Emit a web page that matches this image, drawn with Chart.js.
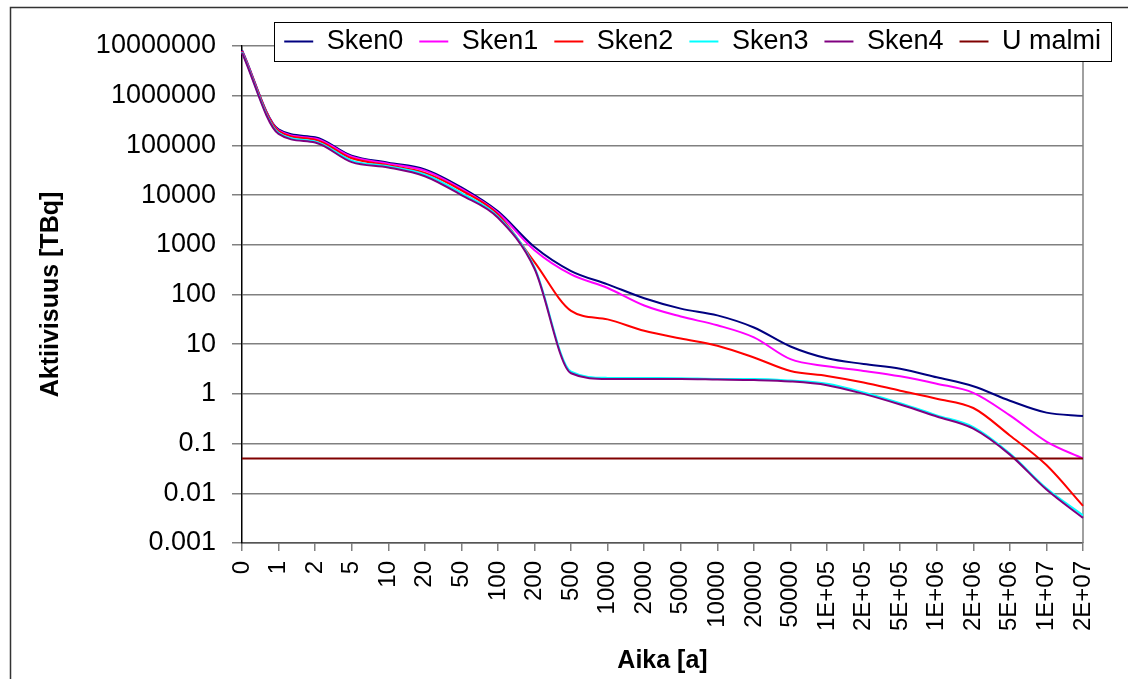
<!DOCTYPE html>
<html>
<head>
<meta charset="utf-8">
<title>Aktiivisuus</title>
<script src="https://cdn.jsdelivr.net/npm/chart.js@4/dist/chart.umd.min.js"></script>
<style>
    html, body { margin: 0; padding: 0; background: #fff; }
    #chart-wrap { width: 1128px; height: 679px; }
</style>
</head>
<body>
<div id="chart-wrap"><canvas id="activity-chart" width="1128" height="679"></canvas></div>
<script>
'use strict';

// Chart data:
var labels = ['0', '1', '2', '5', '10', '20', '50', '100', '200', '500', '1000', '2000',
    '5000', '10000', '20000', '50000', '1E+05', '2E+05', '5E+05', '1E+06', '2E+06',
    '5E+06', '1E+07', '2E+07'];

var sken0 = [8.2e6, 2.1e5, 1.46e5, 6.2e4, 4.5e4, 3.3e4, 1.43e4, 4.7e3, 900, 296, 160, 84,
    52, 38, 21.7, 9, 5.2, 4.0, 3.2, 2.16, 1.43, 0.73, 0.42, 0.36];
var sken1 = [8.0e6, 2.0e5, 1.38e5, 5.9e4, 4.3e4, 3.1e4, 1.33e4, 4.4e3, 780, 254, 135, 60,
    36, 24, 13.7, 5.0, 3.6, 2.9, 2.26, 1.6, 1.05, 0.37, 0.11, 0.05];
var sken2 = [7.8e6, 1.95e5, 1.3e5, 5.5e4, 4.0e4, 2.8e4, 1.25e4, 4.1e3, 450, 47, 31.6, 18.6,
    13, 9.3, 5.4, 2.9, 2.3, 1.7, 1.16, 0.8, 0.52, 0.146, 0.037, 0.0056];
var sken3 = [7.5e6, 1.8e5, 1.2e5, 4.95e4, 3.8e4, 2.6e4, 1.1e4, 3.7e3, 350, 2.8, 2.1, 2.08,
    2.07, 2.0, 2.0, 1.85, 1.6, 1.07, 0.65, 0.37, 0.215, 0.063, 0.0126, 0.0036];
var sken4 = [7.3e6, 1.7e5, 1.14e5, 4.6e4, 3.6e4, 2.4e4, 1.0e4, 3.5e3, 330, 2.6, 2.0, 2.0,
    2.0, 1.95, 1.9, 1.78, 1.5, 1.0, 0.61, 0.35, 0.2, 0.06, 0.0119, 0.0032];
var uMalmi = [0.05, 0.05, 0.05, 0.05, 0.05, 0.05, 0.05, 0.05, 0.05, 0.05, 0.05, 0.05,
    0.05, 0.05, 0.05, 0.05, 0.05, 0.05, 0.05, 0.05, 0.05, 0.05, 0.05, 0.05];

var yTicks = [0.001, 0.01, 0.1, 1, 10, 100, 1000, 10000, 100000, 1000000, 10000000];

var FONT = '"Liberation Sans", Arial, sans-serif';

function series(label, data, color, order) {
    return {
        label: label,
        data: data,
        borderColor: color,
        backgroundColor: color,
        borderWidth: 2,
        pointRadius: 0,
        pointHoverRadius: 0,
        fill: false,
        cubicInterpolationMode: 'monotone',
        order: order
    };
}

// Excel style frame, plot border and a boxed legend overlapping the plot top:
var excelLook = {
    id: 'excelLook',
    beforeDraw: function (chart) {
        var ctx = chart.ctx;
        ctx.save();
        ctx.fillStyle = '#fff';
        ctx.fillRect(0, 0, chart.width, chart.height);
        ctx.strokeStyle = '#333';
        ctx.lineWidth = 1.5;
        ctx.strokeRect(10.5, 7.5, chart.width + 20, chart.height + 20);
        ctx.restore();
    },
    afterLayout: function (chart) {
        var legend = chart.legend;
        legend.left = 0;
        legend.right = 1117;
        legend.top = 12;
        legend.bottom = 70;
        legend.width = legend.right - legend.left;
        legend.height = legend.bottom - legend.top;
    },
    beforeDatasetsDraw: function (chart) {
        var ctx = chart.ctx;
        var area = chart.chartArea;
        var legend = chart.legend;
        ctx.save();
        // Right edge of the plot area:
        ctx.strokeStyle = '#808080';
        ctx.lineWidth = 1.5;
        ctx.beginPath();
        ctx.moveTo(area.right, area.top);
        ctx.lineTo(area.right, area.bottom);
        ctx.stroke();
        // Legend box:
        var boxes = legend.legendHitBoxes;
        var first = boxes[0];
        var last = boxes[boxes.length - 1];
        var cy = first.top + first.height / 2;
        var x0 = Math.round(first.left - 10);
        var x1 = Math.round(last.left + last.width + 10);
        var y0 = Math.round(cy - 19.5);
        ctx.fillStyle = '#fff';
        ctx.fillRect(x0, y0, x1 - x0, 39);
        ctx.strokeStyle = '#000';
        ctx.lineWidth = 1;
        ctx.strokeRect(x0 + 0.5, y0 + 0.5, x1 - x0, 39);
        ctx.restore();
        legend.draw();
    }
};

var context = document.getElementById('activity-chart').getContext('2d');

var chart = new Chart(context, {
    type: 'line',
    data: {
        labels: labels,
        datasets: [
            series('Sken0', sken0, '#000080', 5),
            series('Sken1', sken1, '#ff00ff', 4),
            series('Sken2', sken2, '#ff0000', 3),
            series('Sken3', sken3, '#00ffff', 2),
            series('Sken4', sken4, '#800080', 1),
            series('U malmi', uMalmi, '#800000', 0)
        ]
    },
    options: {
        responsive: false,
        devicePixelRatio: 1,
        animation: false,
        events: [],
        layout: {
            padding: { top: 0, right: 45, bottom: 0, left: 0 }
        },
        plugins: {
            tooltip: { enabled: false },
            legend: {
                position: 'top',
                align: 'end',
                maxHeight: 46,
                labels: {
                    usePointStyle: true,
                    pointStyle: 'line',
                    pointStyleWidth: 29,
                    padding: 16,
                    color: '#000',
                    font: { size: 27, family: FONT },
                    sort: function (a, b) { return a.datasetIndex - b.datasetIndex; }
                }
            }
        },
        scales: {
            x: {
                type: 'category',
                offset: false,
                afterFit: function (axis) { axis.height = 136; },
                ticks: {
                    color: '#000',
                    font: { size: 24, family: FONT },
                    minRotation: 90,
                    maxRotation: 90,
                    padding: 10,
                    autoSkip: false
                },
                grid: {
                    display: true,
                    drawOnChartArea: false,
                    drawTicks: true,
                    tickLength: 8,
                    color: '#808080',
                    lineWidth: 1.5,
                    offset: false
                },
                border: { color: '#555', width: 1.5 },
                title: {
                    display: true,
                    text: 'Aika [a]',
                    color: '#000',
                    font: { size: 25, weight: 'bold', family: FONT },
                    padding: { top: 0, bottom: 3 }
                }
            },
            y: {
                type: 'logarithmic',
                min: 0.001,
                max: 10000000,
                afterBuildTicks: function (axis) {
                    axis.ticks = yTicks.map(function (v) { return { value: v }; });
                },
                afterFit: function (axis) { axis.width = 242; },
                ticks: {
                    color: '#000',
                    font: { size: 27, family: FONT },
                    padding: 16,
                    callback: function (value) { return String(value); }
                },
                grid: {
                    color: '#808080',
                    lineWidth: 1.5,
                    tickLength: 10,
                    tickColor: '#808080'
                },
                border: { color: '#000', width: 1.5 },
                title: {
                    display: true,
                    text: 'Aktiivisuus [TBq]',
                    color: '#000',
                    font: { size: 25, weight: 'bold', family: FONT },
                    padding: { top: 36, bottom: 0 }
                }
            }
        }
    },
    plugins: [excelLook]
});
</script>
</body>
</html>
